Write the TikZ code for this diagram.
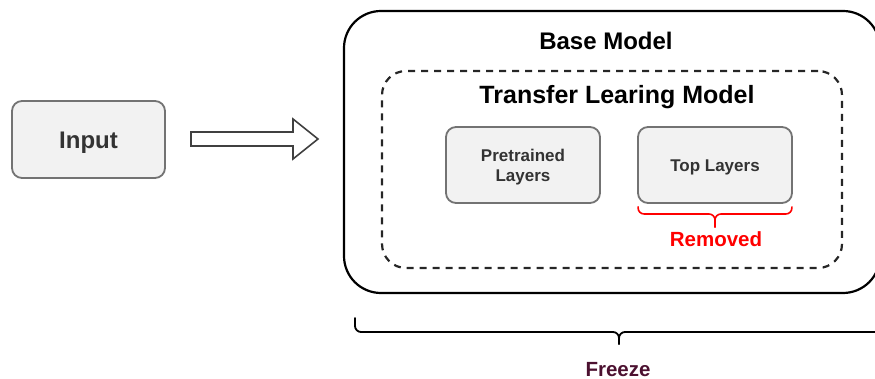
\documentclass[tikz,border=0pt]{standalone}
\usepackage{fontspec}
\setmainfont{Liberation Sans}
\usetikzlibrary{calc}
\begin{document}
\begin{tikzpicture}[x=1pt,y=-1pt,
  graybox/.style={draw=black!55, line width=1.8pt, fill=black!5, rounded corners=10pt, inner sep=0pt, text=black!80, font=\bfseries},
  title/.style={font=\bfseries, text=black, inner sep=0pt, anchor=base},
  bracepath/.style={line width=1.8pt, line cap=round, rounded corners=6pt},
]
\useasboundingbox (0,0) rectangle (875,379);
% Input
\node[graybox, minimum width=153pt, minimum height=77pt, font=\fontsize{24}{28}\selectfont\bfseries] (input) at (88.5,139.5) {\raisebox{-3pt}[\height][\depth]{Input}};
% Block arrow
\coordinate (arrS) at (191,139);
\draw[line width=1.6pt, draw=black!75, fill=white, line join=miter]
  ($(arrS)+(0,-7)$) -- ++(102,0) -- ++(0,-13) -- (318,139) -- (293,159) -- ++(0,-13) -- (191,146) -- cycle;
% Base model box
\node[draw=black, line width=2.2pt, rounded corners=37pt, minimum width=536pt, minimum height=282pt, inner sep=0pt] (base) at (612,152) {};
\node[title, font=\fontsize{24}{28}\selectfont\bfseries] (basettl) at (606,50) {Base Model};
% Transfer learning dashed box
\node[draw=black!85, line width=2.2pt, dash pattern=on 7pt off 6pt, rounded corners=24pt, minimum width=460pt, minimum height=197pt, inner sep=0pt] (tlm) at (612,169.5) {};
\node[title, font=\fontsize{25}{28}\selectfont\bfseries] (tlmttl) at (617,104) {Transfer Learing Model};
% Inner boxes
\node[graybox, minimum width=154pt, minimum height=76pt, font=\fontsize{17}{21}\selectfont\bfseries] (pre) at (523,165) {\raisebox{-2.5pt}[\height][\depth]{\begin{tabular}{@{}c@{}}Pretrained\\[-1pt]Layers\end{tabular}}};
\node[graybox, minimum width=154pt, minimum height=76pt, font=\fontsize{17}{21}\selectfont\bfseries] (top) at (715,165) {\raisebox{-2.5pt}[\height][\depth]{Top Layers}};
% Red brace under Top Layers
\coordinate (rb) at (715,214);
\draw[bracepath, red, line width=1.6pt]
  ([xshift=1pt,yshift=-3pt]top.south west) |- (rb) -- (715,227);
\draw[bracepath, red, line width=1.6pt]
  ([xshift=-1pt,yshift=-3pt]top.south east) |- (rb) -- (715,227);
\node[title, text=red, font=\fontsize{20.5}{24}\selectfont\bfseries] (removed) at (716,247) {Removed};
% Freeze brace
\coordinate (fz) at (619,332);
\draw[bracepath] (355,318) |- (fz) -- (619,344);
\draw[bracepath] (883,318) |- (fz) -- (619,344);
\node[title, text={rgb,255:red,76;green,17;blue,48}, font=\fontsize{20.5}{24}\selectfont\bfseries] (freeze) at (618,376) {Freeze};
\end{tikzpicture}
\end{document}
